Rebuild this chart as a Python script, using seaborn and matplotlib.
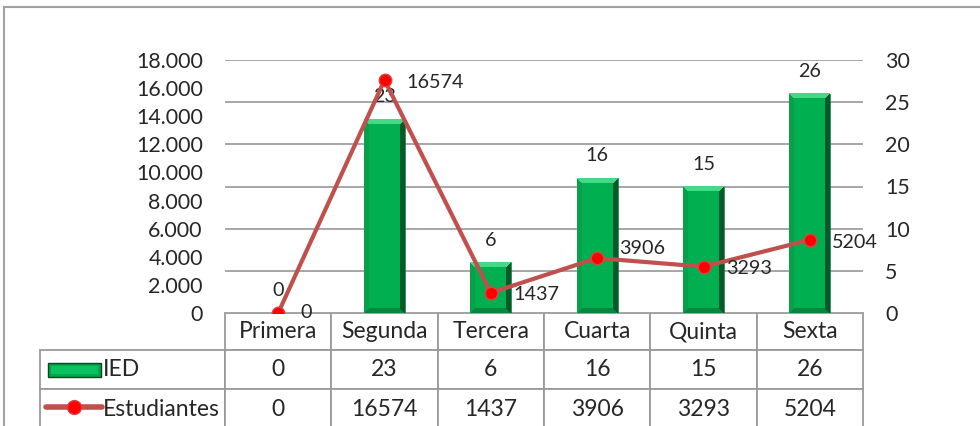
import numpy as np
import seaborn as sns
import matplotlib.pyplot as plt
import matplotlib.ticker as ticker
from matplotlib.patches import Rectangle
from matplotlib.lines import Line2D
from matplotlib.colors import to_rgb

grados = ['Primera', 'Segunda', 'Tercera', 'Cuarta', 'Quinta', 'Sexta']
ied = [0, 23, 6, 16, 15, 26]
estudiantes = [0, 16574, 1437, 3906, 3293, 5204]

W, H = 980, 426
sns.set_style('white')
plt.rcParams['font.family'] = ['Lato', 'DejaVu Sans']
FS = 14.2
FS_TICK = 15.4
FS_TABLE = 16.5
GRID = '#A6A6A6'
LINE = '#C0504D'


def bevel_image(w_px, h_px, b=5):
    # green bar with a bevelled look (light top, dark right side)
    yy, xx = np.mgrid[0:h_px, 0:w_px]
    d_top, d_bot = yy, h_px - 1 - yy
    d_left, d_right = xx, w_px - 1 - xx
    m = np.minimum.reduce([d_top, d_bot, d_left, d_right])
    img = np.empty((h_px, w_px, 3))
    img[:] = to_rgb('#00B050')
    edge = m < b
    img[edge & (d_bot == m)] = to_rgb('#06873E')
    img[edge & (d_left == m)] = to_rgb('#08A049')
    img[edge & (d_right == m)] = to_rgb('#045A29')
    img[edge & (d_top == m)] = to_rgb('#45D886')
    return img


fig = plt.figure(figsize=(W / 100, H / 100), dpi=100)
ax = fig.add_axes([225 / W, 1 - 313 / H, (863 - 225) / W, 253 / H])

# bars (right scale)
sns.barplot(x=grados, y=ied, ax=ax, color='#00B050', width=0.385,
            errorbar=None, edgecolor='#03602C', linewidth=0.4, zorder=2)

# line (left scale), drawn on a twin axis so it sits above the bars
ax2 = ax.twinx()
sns.pointplot(x=grados, y=estudiantes, ax=ax2, color=LINE, errorbar=None,
              markers='o', linestyles='-', linewidth=3, markersize=9,
              markerfacecolor='#FF0000', markeredgecolor='#E04040',
              markeredgewidth=1, zorder=5)

ax.set_ylim(0, 30)
ax.set_xlim(-0.5, len(grados) - 0.5)
px_per_unit = 253 / 30
for p in ax.patches:
    h = p.get_height()
    if h <= 0:
        continue
    img = bevel_image(41, max(int(round(h * px_per_unit)), 2))
    ax.imshow(img, extent=[p.get_x(), p.get_x() + p.get_width(), 0, h],
              aspect='auto', clip_path=p, zorder=2.5, interpolation='nearest')
ax.set_ylim(0, 30)
ax.set_xlim(-0.5, len(grados) - 0.5)
ax.set_aspect('auto')
ax.bar_label(ax.containers[0], labels=[str(v) for v in ied], padding=10, fontsize=FS)

ax.yaxis.set_major_locator(ticker.MultipleLocator(5))
ax.yaxis.tick_right()
ax.tick_params(axis='y', length=0, pad=16, labelsize=FS_TICK)
ax.grid(axis='y', color=GRID, linewidth=1.4)
ax.set_axisbelow(True)
ax.set_xlabel('')
for s in ax.spines.values():
    s.set_visible(False)

ax2.set_ylim(0, 18000)
ax2.yaxis.set_major_locator(ticker.MultipleLocator(2000))
ax2.yaxis.set_major_formatter(ticker.FuncFormatter(lambda v, _: f'{int(v):,}'.replace(',', '.')))
ax2.yaxis.tick_left()
ax2.tick_params(axis='y', length=0, pad=16, labelsize=FS_TICK)
ax2.set_xlabel('')
ax2.set_ylabel('')
ax2.grid(False)
for s in ax2.spines.values():
    s.set_visible(False)
ax.set_xticks([])
ax.set_xlim(-0.5, len(grados) - 0.5)

dy = [0, -1.5, -1.5, 7, -1.5, -2]
for i, v in enumerate(estudiantes):
    ax2.annotate(str(v), (i, v), xytext=(16, dy[i]), textcoords='offset points',
                 ha='left', va='center', fontsize=FS, zorder=6)

# data table under the chart
rows = [['IED'] + [str(v) for v in ied],
        ['Estudiantes'] + [str(v) for v in estudiantes]]
tbl = ax.table(cellText=rows, colLabels=[''] + grados, cellLoc='center',
               colWidths=[185] + [638 / 6] * 6,
               bbox=[-185 / 638, -118 / 253, 1 + 185 / 638, 118 / 253])
tbl.auto_set_font_size(False)
tbl.set_fontsize(FS_TABLE)
heights = {0: 37, 1: 39, 2: 42}
for (r, c), cell in tbl.get_celld().items():
    cell.set_edgecolor('#9A9A9A')
    cell.set_linewidth(1.3)
    cell.set_height(heights[r])
    if c == 0:
        cell.get_text().set_horizontalalignment('left')
        cell.PAD = 63 / 185
        if r == 0:
            cell.visible_edges = ''

# legend keys inside the table
fig.add_artist(Rectangle((48 / W, 1 - 377 / H), 53 / W, 14 / H,
                         facecolor='#00A84B', edgecolor='#03461F', lw=1))
fig.add_artist(Rectangle((51 / W, 1 - 374 / H), 47 / W, 8 / H,
                         facecolor='#0BC35E', edgecolor='none'))
fig.add_artist(Line2D([46 / W, 102 / W], [1 - 407 / H] * 2, color=LINE, lw=4,
                      solid_capstyle='round'))
fig.add_artist(Line2D([74 / W], [1 - 407 / H], marker='o', markersize=10,
                      markerfacecolor='#FF0000', markeredgecolor='#E04040'))

# outer frame
fig.add_artist(Rectangle((4 / W, -0.1), 1.2, 1.1 - 7 / H, fill=False,
                         edgecolor='#A0A0A0', lw=1.5))

fig.savefig('out.png', dpi=100)
plt.close(fig)
